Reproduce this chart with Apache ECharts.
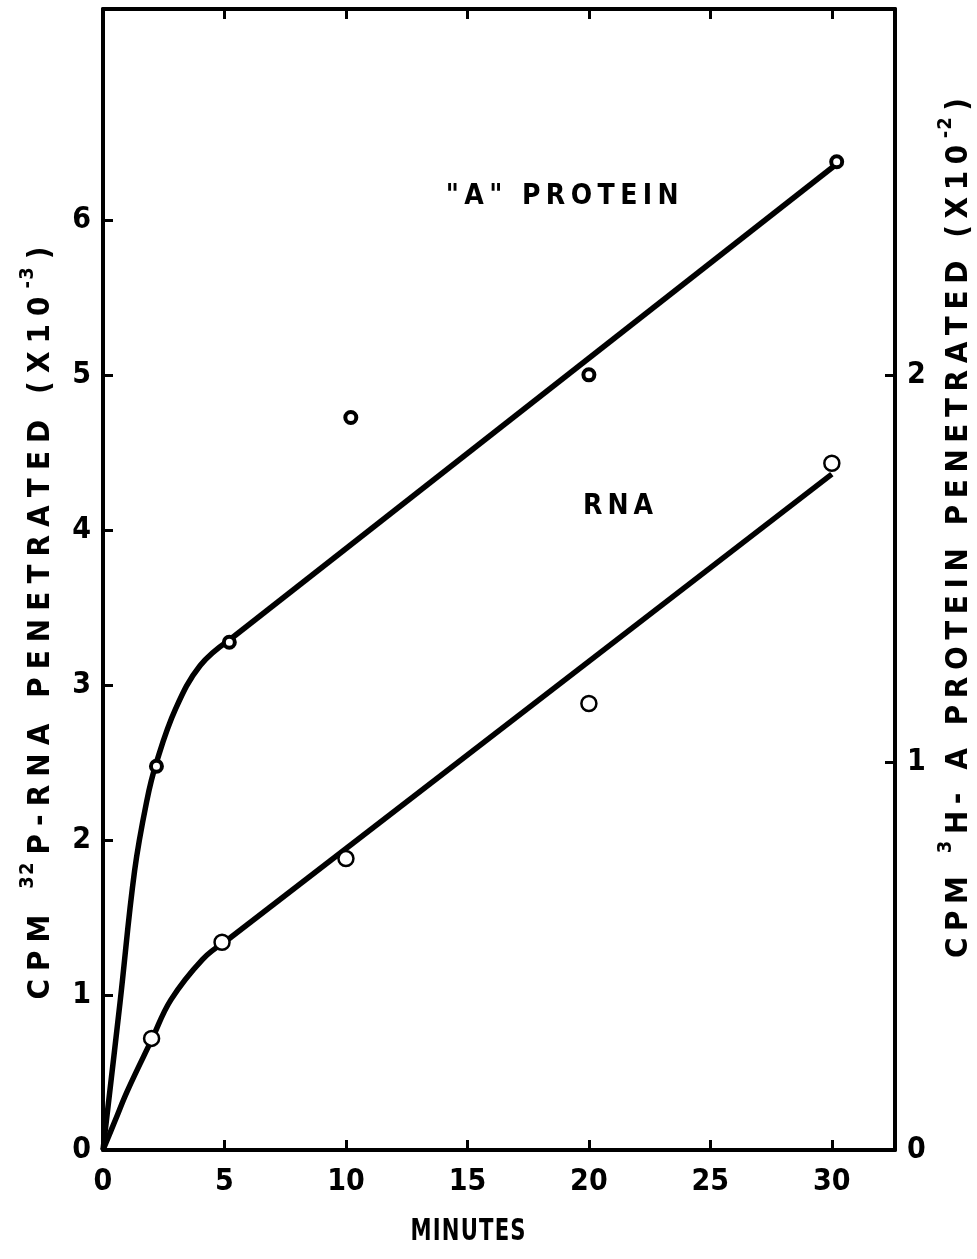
<!DOCTYPE html>
<html>
<head>
<meta charset="utf-8">
<script src="https://cdn.jsdelivr.net/npm/echarts@6/dist/echarts.min.js"></script>
<style>
html,body{margin:0;padding:0;background:#fff;}
#c{width:977px;height:1259px;}
</style>
</head>
<body>
<div id="c"></div>
<script>
// ---- data (minutes; left axis = CPM 32P-RNA x10^-3; right axis = CPM 3H-A protein x10^-2)
var xTicks = [0, 5, 10, 15, 20, 25, 30];
var leftTicks = [0, 1, 2, 3, 4, 5, 6];
var rightTicks = [0, 1, 2];

var rnaX = [2.0, 4.9, 10.0, 20.0, 30.0];
var rnaY = [0.72, 1.34, 1.88, 2.88, 4.43];

var protX = [2.2, 5.2, 10.2, 20.0, 30.2];
var protY = [0.99, 1.31, 1.89, 2.00, 2.55];

// hand-drawn fitted curves
var rnaCurveX = [0, 0.5, 1.0, 2.0, 2.8, 4.1, 5.0];
var rnaCurveY = [0, 0.19, 0.38, 0.71, 0.97, 1.23, 1.34];
var rnaLineX = [5.0, 30.0];
var rnaLineY = [1.34, 4.36];

var protCurveX = [0, 0.7, 1.3, 1.8, 2.2, 3.0, 4.0, 5.2];
var protCurveY = [0, 0.38, 0.72, 0.90, 1.00, 1.14, 1.25, 1.316];
var protLineX = [5.2, 30.2];
var protLineY = [1.316, 2.544];

function zip(a, b) { return a.map(function (v, i) { return [v, b[i]]; }); }

var FONT = "'DejaVu Sans Condensed','DejaVu Sans',sans-serif";
var X_MAX = 32.6, L_MAX = 7.36, R_MAX = L_MAX / 2.5;

var chart = echarts.init(document.getElementById('c'), null, {renderer: 'canvas'});

function axisCommon(showLabels, ticks) {
  return {
    axisLine: {show: true, onZero: false, lineStyle: {color: '#000', width: 4}},
    axisTick: {show: true, inside: true, length: 10, customValues: ticks, lineStyle: {color: '#000', width: 3}},
    splitLine: {show: false},
    axisLabel: {show: showLabels, customValues: ticks, color: '#000', fontSize: 30, fontWeight: 'bold', fontFamily: FONT}
  };
}

var option = {
  animation: false,
  backgroundColor: '#fff',
  grid: {left: 103, right: 82, top: 9, bottom: 109, containLabel: false},
  xAxis: [
    Object.assign({type: 'value', position: 'bottom', min: 0, max: X_MAX, interval: 5}, axisCommon(true, xTicks)),
    Object.assign({type: 'value', position: 'top', min: 0, max: X_MAX, interval: 5}, axisCommon(false, xTicks))
  ],
  yAxis: [
    Object.assign({type: 'value', position: 'left', min: 0, max: L_MAX, interval: 1}, axisCommon(true, leftTicks)),
    Object.assign({type: 'value', position: 'right', min: 0, max: R_MAX, interval: 1}, axisCommon(true, rightTicks))
  ],
  series: [
    {type: 'line', xAxisIndex: 0, yAxisIndex: 0, data: zip(rnaCurveX, rnaCurveY), smooth: 0.4, symbol: 'none',
      lineStyle: {color: '#000', width: 5.5}, z: 2},
    {type: 'line', xAxisIndex: 0, yAxisIndex: 0, data: zip(rnaLineX, rnaLineY), symbol: 'none',
      lineStyle: {color: '#000', width: 5.5}, z: 2},
    {type: 'line', xAxisIndex: 0, yAxisIndex: 1, data: zip(protCurveX, protCurveY), smooth: 0.4, symbol: 'none',
      lineStyle: {color: '#000', width: 5.5}, z: 2},
    {type: 'line', xAxisIndex: 0, yAxisIndex: 1, data: zip(protLineX, protLineY), symbol: 'none',
      lineStyle: {color: '#000', width: 5.5}, z: 2},
    {type: 'scatter', xAxisIndex: 0, yAxisIndex: 0, data: zip(rnaX, rnaY), symbol: 'circle', symbolSize: 15,
      itemStyle: {color: '#fff', borderColor: '#000', borderWidth: 2.5, opacity: 1}, z: 5},
    {type: 'scatter', xAxisIndex: 0, yAxisIndex: 1, data: zip(protX, protY), symbol: 'circle', symbolSize: 11,
      itemStyle: {color: '#fff', borderColor: '#000', borderWidth: 4, opacity: 1}, z: 5}
  ]
};
option.xAxis[0].axisLabel.margin = 17;
option.yAxis[0].axisLabel.margin = 12;
option.yAxis[1].axisLabel.margin = 12;
chart.setOption(option);

// ---- spaced lettering (the original uses widely spaced stencil lettering)
var mctx = document.createElement('canvas').getContext('2d');
function measure(t, size) { mctx.font = 'bold ' + size + 'px ' + FONT; return mctx.measureText(t).width; }
// segs: [[text, isSuperscript], ...]
function spaced(segs, size, target, cx, cy, rotation) {
  var sup = Math.round(size * 0.66);
  var chars = [];
  segs.forEach(function (s, si) {
    Array.from(s[0]).forEach(function (ch) { chars.push({ch: ch, sup: s[1], seg: si, w: measure(ch, s[1] ? sup : size)}); });
  });
  var sum = 0, weights = 0, wts = [];
  chars.forEach(function (c, i) {
    sum += c.w;
    if (i > 0) {
      var p = chars[i - 1];
      var wt = (c.sup && p.sup && c.seg === p.seg) ? 0.15 : 1;
      wts.push(wt); weights += wt;
    }
  });
  var gap = weights > 0 ? (target - sum) / weights : 0;
  var scale = 1;
  if (gap < 1.5) { gap = 1.5; scale = target / (sum + gap * weights); }
  var natural = sum + gap * weights;
  var x = -natural / 2, children = [];
  chars.forEach(function (c, i) {
    if (i > 0) x += gap * wts[i - 1];
    if (c.ch !== ' ') {
      children.push({type: 'text', x: x, y: c.sup ? -size * 0.42 : 0,
        style: {text: c.ch, fontSize: c.sup ? sup : size, fontWeight: 'bold', fontFamily: FONT, fill: '#000',
          align: 'left', verticalAlign: 'middle'}});
    }
    x += c.w;
  });
  return {type: 'group', x: cx, y: cy, rotation: rotation || 0, scaleX: scale, children: children};
}

var pA = chart.convertToPixel({xAxisIndex: 0, yAxisIndex: 0}, [18.9, 6.15]);
var pR = chart.convertToPixel({xAxisIndex: 0, yAxisIndex: 0}, [21.2, 4.15]);

chart.setOption({
  graphic: [
    spaced([['CPM ', false], ['32', true], ['P-RNA PENETRATED (X10', false], ['-3', true], [')', false]],
      31, 753, 41, 623, Math.PI / 2),
    spaced([['CPM ', false], ['3', true], ['H- A PROTEIN PENETRATED (X10', false], ['-2', true], [')', false]],
      31, 860, 959, 528, Math.PI / 2),
    spaced([['MINUTES', false]], 30, 115, 468, 1232, 0),
    spaced([['"A" PROTEIN', false]], 28, 233, pA[0], pA[1], 0),
    spaced([['RNA', false]], 28, 70, pR[0], pR[1], 0)
  ]
});
</script>
</body>
</html>
